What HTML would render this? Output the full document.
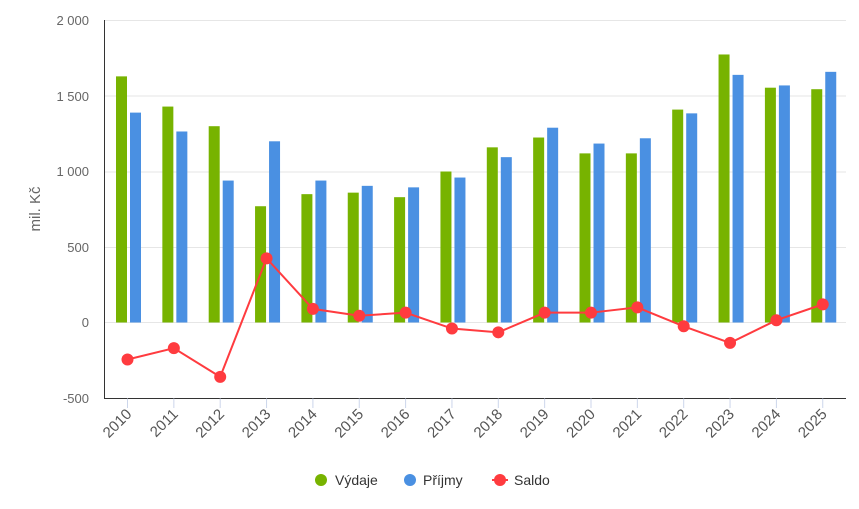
<!DOCTYPE html>
<html><head><meta charset="utf-8"><style>
body{margin:0;background:#fff;}
svg{display:block;font-family:"Liberation Sans",sans-serif;}
</style></head><body>
<svg width="859" height="509" viewBox="0 0 859 509">
<g stroke="#e6e6e6" stroke-width="1">
<line x1="104" x2="846" y1="20.5" y2="20.5"/>
<line x1="104" x2="846" y1="96" y2="96"/>
<line x1="104" x2="846" y1="172" y2="172"/>
<line x1="104" x2="846" y1="247.5" y2="247.5"/>
<line x1="104" x2="846" y1="322.5" y2="322.5"/>
</g>
<g font-size="13" fill="#666" text-anchor="end">
<text x="89" y="25">2 000</text>
<text x="89" y="101">1 500</text>
<text x="89" y="176">1 000</text>
<text x="89" y="252">500</text>
<text x="89" y="327">0</text>
<text x="89" y="403">-500</text>
</g>
<text transform="translate(40,209) rotate(-90)" font-size="15" fill="#666" text-anchor="middle">mil. Kč</text>
<g id="bars"></g>
<line x1="104.5" x2="104.5" y1="20" y2="398.5" stroke="#333" stroke-width="1"/>
<line x1="104" x2="846" y1="398.5" y2="398.5" stroke="#333" stroke-width="1"/>
<g id="ticks"></g>
<g id="line"></g>
<g font-size="14" fill="#333">
<circle cx="321" cy="480" r="6" fill="#77b300"/><text x="335" y="485">Výdaje</text>
<circle cx="410" cy="480" r="6" fill="#4a90e2"/><text x="423" y="485">Příjmy</text>
<line x1="492" x2="508" y1="480" y2="480" stroke="#ff3b3f" stroke-width="2"/>
<circle cx="500" cy="480" r="6" fill="#ff3b3f"/><text x="514" y="485">Saldo</text>
</g>
<script>
var v=[1630,1430,1300,770,850,860,830,1000,1160,1225,1120,1120,1410,1775,1555,1545];
var p=[1390,1265,940,1200,940,905,895,960,1095,1290,1185,1220,1385,1640,1570,1660];
var s=[-245,-170,-360,425,90,45,65,-40,-65,65,65,100,-25,-135,15,120];
var y0=322.5,k=0.151,ns="http://www.w3.org/2000/svg";
function el(t,a,par){var e=document.createElementNS(ns,t);for(var i in a)e.setAttribute(i,a[i]);document.getElementById(par).appendChild(e);return e;}
var pts=[];
for(var i=0;i<16;i++){
 var x=127.5+i*46.35;
 el("rect",{x:x-11.5,y:y0-v[i]*k,width:11,height:v[i]*k,fill:"#77b300"},"bars");
 el("rect",{x:x+2.5,y:y0-p[i]*k,width:11,height:p[i]*k,fill:"#4a90e2"},"bars");
 el("line",{x1:x,x2:x,y1:398.5,y2:408,stroke:"#ccd6eb"},"ticks");
 var t=el("text",{transform:"translate("+(x+5)+",415) rotate(-45)","font-size":"15",fill:"#555","text-anchor":"end"},"ticks");
 t.textContent=2010+i;
 pts.push(x+","+(y0-s[i]*k));
}
el("polyline",{points:pts.join(" "),fill:"none",stroke:"#ff3b3f","stroke-width":2},"line");
for(var i=0;i<16;i++){var q=pts[i].split(",");el("circle",{cx:q[0],cy:q[1],r:6,fill:"#ff3b3f"},"line");}
</script>
</svg>
</body></html>
